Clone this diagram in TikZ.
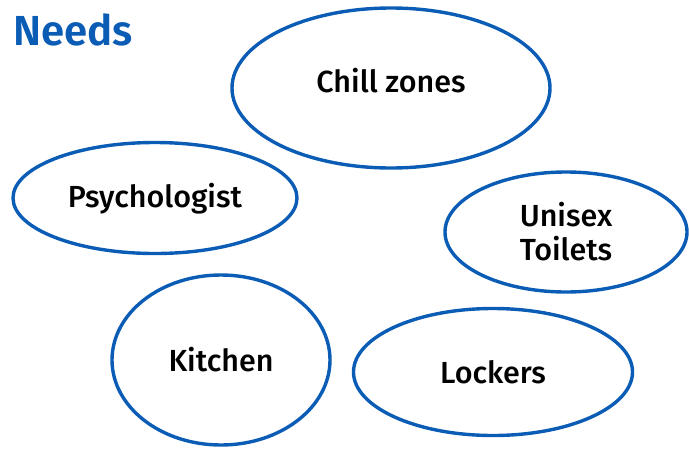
\documentclass[tikz,border=0pt]{standalone}
\usepackage{fontspec}
\setmainfont{Fira Sans}
\newfontfamily\medfont{Fira Sans Medium}
\newfontfamily\semifont{Fira Sans SemiBold}
\usetikzlibrary{shapes.geometric}
\definecolor{needblue}{HTML}{0B5CB5}
\begin{document}
\begin{tikzpicture}[x=1pt,y=-1pt,
  need/.style={ellipse, draw=needblue, line width=3.4pt, inner sep=0pt, align=center, font=\medfont\fontsize{30.5}{34}\selectfont, text=black}]
\useasboundingbox (0,0) rectangle (689,448);
\node[anchor=west, text=needblue, font=\semifont\fontsize{42}{46}\selectfont, inner sep=0pt] (title) at (13,30) {Needs};
\node[need, minimum width=318pt, minimum height=160pt, text depth=16pt] (chill) at (391,88) {Chill zones};
\node[need, minimum width=284pt, minimum height=111pt, text height=26pt] (psych) at (155,198) {Psychologist};
\node[need, minimum width=242pt, minimum height=120pt] (toilets) at (566,232) {Unisex\\Toilets};
\node[need, minimum width=218pt, minimum height=170pt] (kitchen) at (221,360) {Kitchen};
\node[need, minimum width=279pt, minimum height=127pt] (lockers) at (493,372) {Lockers};
\end{tikzpicture}
\end{document}
